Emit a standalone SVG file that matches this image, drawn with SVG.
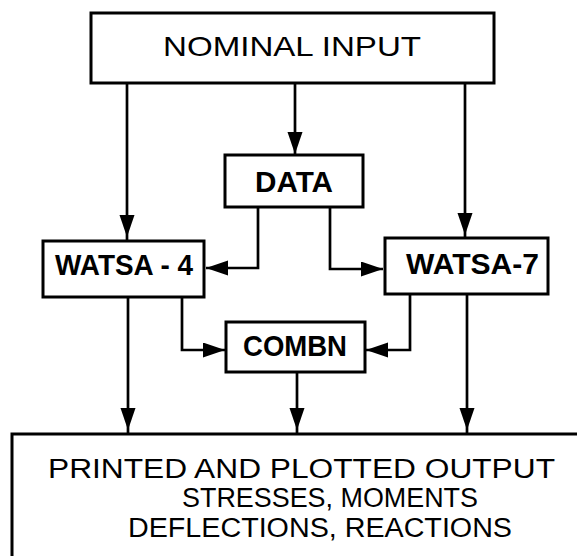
<svg xmlns="http://www.w3.org/2000/svg" width="577" height="556" viewBox="0 0 577 556">
<style>
.box{fill:#fff;stroke:#000;stroke-width:3}
.con{fill:none;stroke:#000;stroke-width:2.7}
.t{font-family:"Liberation Sans",Arial,sans-serif;fill:#000}
.b{font-weight:bold;font-size:30px}
.n{font-size:28px}
.o{font-size:27px}
</style>
<defs>
<marker id="arr" markerUnits="userSpaceOnUse" markerWidth="24" markerHeight="18" refX="22" refY="7.5" orient="auto">
<path d="M0,0 L22,7.5 L0,15 Z" fill="#000"/>
</marker>
</defs>
<rect width="577" height="556" fill="#fff"/>
<g id="connectors">
<path class="con" d="M127,83 L127,237 L127,241" marker-mid="url(#arr)"/>
<path class="con" d="M295,83 L295,154" marker-end="url(#arr)"/>
<path class="con" d="M465,83 L465,235 L465,238" marker-mid="url(#arr)"/>
<path class="con" d="M258,207 V268 H206" marker-end="url(#arr)"/>
<path class="con" d="M330,207 V269 H383" marker-end="url(#arr)"/>
<path class="con" d="M182,297 V350 H225" marker-end="url(#arr)"/>
<path class="con" d="M410,294 V350 H366" marker-end="url(#arr)"/>
<path class="con" d="M128,297 L128,430 L128,434" marker-mid="url(#arr)"/>
<path class="con" d="M297,372 L297,430 L297,434" marker-mid="url(#arr)"/>
<path class="con" d="M467,294 L467,430 L467,434" marker-mid="url(#arr)"/>
</g>
<g id="nominal-input">
<rect class="box" x="91" y="13" width="403" height="70"/>
<text class="t n" x="163" y="56" textLength="258" lengthAdjust="spacingAndGlyphs">NOMINAL  INPUT</text>
</g>
<g id="data">
<rect class="box" x="225" y="155" width="138" height="52"/>
<text class="t b" x="255" y="192" textLength="78" lengthAdjust="spacingAndGlyphs">DATA</text>
</g>
<g id="watsa-4">
<rect class="box" x="43" y="241" width="161" height="56"/>
<text class="t b" x="55" y="275" textLength="138" lengthAdjust="spacingAndGlyphs">WATSA - 4</text>
</g>
<g id="watsa-7">
<rect class="box" x="385" y="238" width="163" height="56"/>
<text class="t b" x="406" y="274" textLength="133" lengthAdjust="spacingAndGlyphs">WATSA-7</text>
</g>
<g id="combn">
<rect class="box" x="226" y="322" width="139" height="50"/>
<text class="t b" x="243" y="356" textLength="104" lengthAdjust="spacingAndGlyphs">COMBN</text>
</g>
<g id="output">
<rect class="box" x="12" y="434" width="600" height="160"/>
<text class="t o" x="48" y="478" textLength="507" lengthAdjust="spacingAndGlyphs">PRINTED AND  PLOTTED OUTPUT</text>
<text class="t o" x="182" y="507" textLength="296" lengthAdjust="spacingAndGlyphs">STRESSES, MOMENTS</text>
<text class="t o" x="128" y="537" textLength="384" lengthAdjust="spacingAndGlyphs">DEFLECTIONS, REACTIONS</text>
</g>
</svg>
